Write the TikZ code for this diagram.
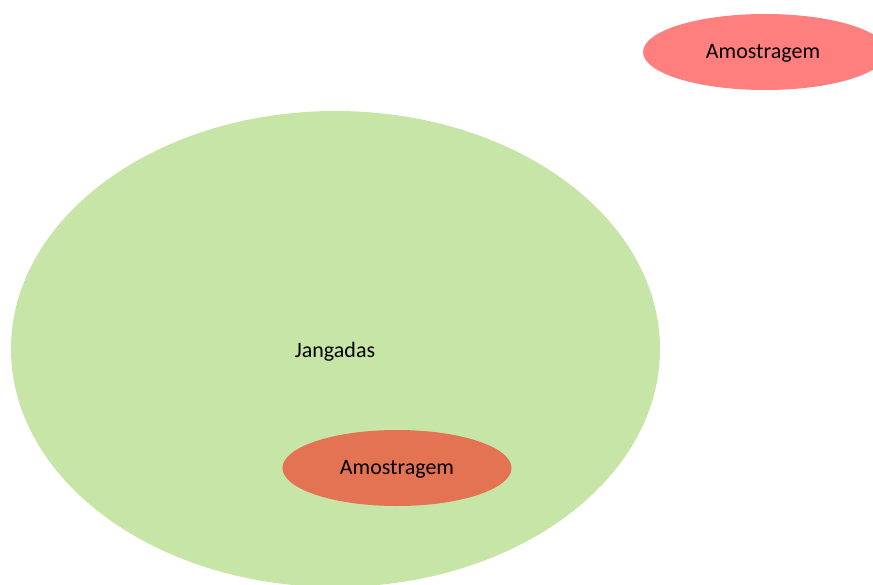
\documentclass[tikz,border=0pt]{standalone}
\usepackage{fontspec}
\setmainfont{Carlito}
\usetikzlibrary{shapes.geometric}
\definecolor{setgreen}{HTML}{C8E5A8}
\definecolor{samplered}{HTML}{FF7F7F}
\definecolor{samplecoral}{HTML}{E37352}
\tikzset{
  blob/.style={ellipse, inner sep=0pt, draw=none},
  lbl/.style={font=\fontsize{22}{24}\selectfont, text=black}
}
\begin{document}
\begin{tikzpicture}[x=1pt,y=-1pt]
  \useasboundingbox (0,0) rectangle (873,584);
  \begin{scope}
    \clip (0,0) rectangle (873,584);
    % population
    \node[blob, fill=setgreen, minimum width=649pt, minimum height=476pt] (pop) at (335.5,349) {};
    \node[lbl] (poplbl) at (335,351.5) {Jangadas};
    % sample inside the population
    \node[blob, fill=samplecoral, minimum width=229pt, minimum height=76pt] (inner) at (397,468) {};
    \node[lbl] (innerlbl) at (397,469.5) {Amostragem};
    % separate sample
    \node[blob, fill=samplered, minimum width=244pt, minimum height=76pt] (outer) at (765,52) {};
    \node[lbl] (outerlbl) at (763,53.5) {Amostragem};
  \end{scope}
\end{tikzpicture}
\end{document}
